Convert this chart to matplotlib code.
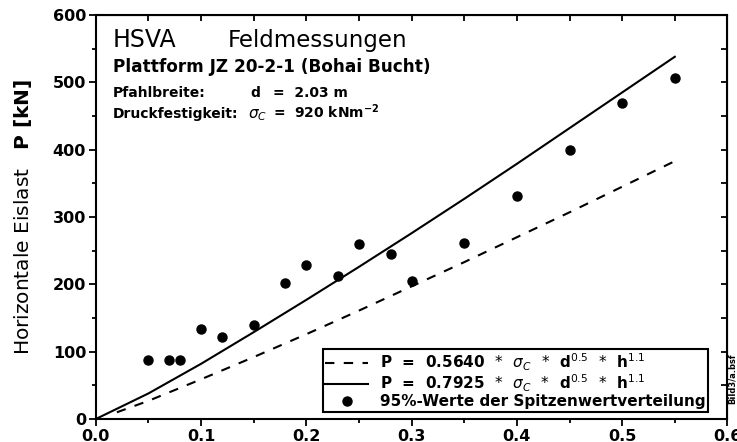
import numpy as np
import matplotlib
matplotlib.use('Agg')
import matplotlib.pyplot as plt
from matplotlib.ticker import MultipleLocator

# Messpunkte (95%-Werte der Spitzenwertverteilung)
h_mess = [0.05, 0.07, 0.08, 0.10, 0.12, 0.15, 0.18, 0.20, 0.23, 0.25,
          0.28, 0.30, 0.35, 0.40, 0.45, 0.50, 0.55]
p_mess = [88, 88, 88, 133, 122, 140, 202, 229, 213, 260,
          245, 205, 262, 331, 399, 470, 507]

# Kurven
h_kurve = [0.00, 0.05, 0.10, 0.15, 0.20, 0.25, 0.30, 0.35, 0.40, 0.45, 0.50, 0.55]
p_07925 = [0, 38, 82, 129, 177, 226, 276, 327, 379, 432, 485, 538]
h_kurve_d = [0.02, 0.05, 0.10, 0.15, 0.20, 0.25, 0.30, 0.35, 0.40, 0.45, 0.50, 0.55]
p_05640 = [10, 27, 59, 92, 126, 161, 197, 233, 270, 307, 345, 383]

x_ticks = [0.0, 0.1, 0.2, 0.3, 0.4, 0.5, 0.6]
x_labels = ['0.0', '0.1', '0.2', '0.3', '0.4', '0.5', '0.6']

plt.rcParams['font.family'] = ['DejaVu Sans']
plt.rcParams['mathtext.fontset'] = 'dejavusans'

fig = plt.figure(figsize=(7.37, 4.42), dpi=100)
ax = fig.add_axes([0.130, 0.052, 0.857, 0.914])

l1, = ax.plot(h_kurve_d, p_05640, color='black', lw=1.5, dashes=(4.5, 4.5))
l2, = ax.plot(h_kurve, p_07925, color='black', lw=1.5)
l3, = ax.plot(h_mess, p_mess, 'o', color='black', ms=6.5, ls='none')

ax.set_xlim(0, 0.6)
ax.set_ylim(0, 600)
ax.set_xticks(x_ticks)
ax.set_xticklabels(x_labels)
ax.xaxis.set_minor_locator(MultipleLocator(0.05))
ax.yaxis.set_major_locator(MultipleLocator(100))
ax.yaxis.set_minor_locator(MultipleLocator(50))

for s in ax.spines.values():
    s.set_linewidth(1.5)
ax.tick_params(which='both', direction='out', width=1.3, labelsize=11.5, pad=2)
ax.tick_params(which='major', length=5)
ax.tick_params(which='minor', length=3)
for lab in ax.get_xticklabels() + ax.get_yticklabels():
    lab.set_fontweight('bold')

# Ticks oben und rechts nach innen
secx = ax.secondary_xaxis('top')
secx.set_xticks(np.arange(0, 0.61, 0.05))
secx.tick_params(direction='in', length=4, width=1.3, labeltop=False)
secy = ax.secondary_yaxis('right')
secy.set_yticks(np.arange(0, 601, 50))
secy.tick_params(direction='in', length=4, width=1.3, labelright=False)

ax.set_ylabel(r'Horizontale Eislast   $\mathbf{P\ [kN]}$', fontsize=14.5)
ax.yaxis.set_label_coords(-0.098, 0.50)

# Beschriftung
ax.text(0.016, 552, 'HSVA', fontsize=17, va='baseline')
ax.text(0.1255, 552, 'Feldmessungen', fontsize=16.5, va='baseline')
ax.text(0.016, 515, 'Plattform JZ 20-2-1 (Bohai Bucht)', fontsize=12.2,
        fontweight='bold', va='baseline')
ax.text(0.016, 478, 'Pfahlbreite:', fontsize=10, fontweight='bold', va='baseline')
ax.text(0.147, 478, 'd', fontsize=10, fontweight='bold', va='baseline')
ax.text(0.168, 478, '=  2.03 m', fontsize=10, fontweight='bold', va='baseline')
ax.text(0.016, 447, 'Druckfestigkeit:', fontsize=10, fontweight='bold', va='baseline')
ax.text(0.145, 447, r'$\sigma_C$', fontsize=11, fontweight='bold', va='baseline')
ax.text(0.168, 447, r'=  920 kNm$^{\mathbf{-2}}$', fontsize=10, fontweight='bold', va='baseline')

leg = ax.legend([l1, l2, l3],
                [r'P  =  0.5640  $*$  $\sigma_C$  $*$  d$^{0.5}$  $*$  h$^{1.1}$',
                 r'P  =  0.7925  $*$  $\sigma_C$  $*$  d$^{0.5}$  $*$  h$^{1.1}$',
                 '95%-Werte der Spitzenwertverteilung'],
                loc='lower left', bbox_to_anchor=(0.36, 0.018),
                prop={'size': 11, 'weight': 'bold'}, frameon=True, fancybox=False,
                edgecolor='black', framealpha=1, borderpad=0.15, labelspacing=0.0,
                handlelength=2.8, handletextpad=0.8, borderaxespad=0)
leg.get_frame().set_linewidth(1.5)

# kleine Bildkennung am rechten Rand
fig.text(0.994, 0.085, 'Bild3/a.bsf', rotation=90, fontsize=6, fontweight='bold',
         ha='center', va='bottom')

fig.savefig('out.png', dpi=100)
